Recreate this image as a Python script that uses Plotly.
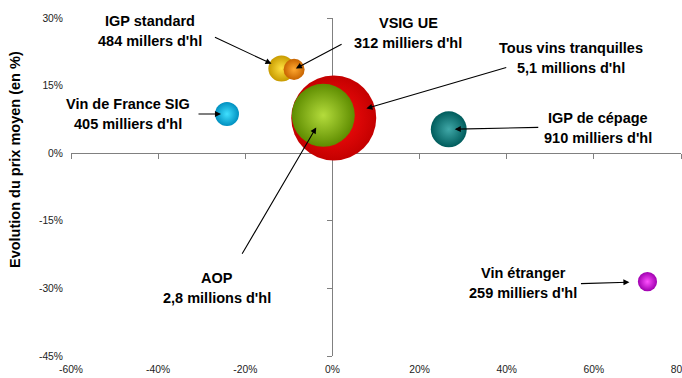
import plotly.graph_objects as go

# ---- data ----
categories = ["Tous vins tranquilles", "AOP", "IGP standard", "VSIG UE",
              "Vin de France SIG", "IGP de cépage", "Vin étranger"]
volume_labels = ["5,1 millions d'hl", "2,8 millions d'hl", "484 millers d'hl",
                 "312 milliers d'hl", "405 milliers d'hl", "910 milliers d'hl",
                 "259 milliers d'hl"]
volume_khl = [5100, 2800, 484, 312, 405, 910, 259]
volume_change = [0.3, -2.1, -11.7, -8.8, -24.2, 26.7, 72.3]   # x, %
price_change = [7.8, 8.4, 18.8, 18.6, 8.7, 5.3, -28.5]        # y, %

x_ticks = [-60, -40, -20, 0, 20, 40, 60, 80]
x_tick_labels = ["-60%", "-40%", "-20%", "0%", "20%", "40%", "60%", "80%"]
y_ticks = [-45, -30, -15, 0, 15, 30]
y_tick_labels = ["-45%", "-30%", "-15%", "0%", "15%", "30%"]
y_title = "Evolution du prix moyen (en %)"

# ---- styles ----
edge_colors = ["#C40000", "#5E8C00", "#C89B00", "#C86400", "#0090C0", "#005C5C", "#A000B0"]
center_colors = ["#FF1010", "#B4DC3C", "#FFE040", "#FFA830", "#40E0FF", "#40A8A8", "#FF50FF"]
# label text offsets (px, relative to bubble centre; y up) and arrow tails (px; y down) + standoff
label_shift = [(237, 60), (-106, -173), (-131, 37), (114, 36), (-99, 0), (149, 1), (-124, -1)]
arrow_tail = [(174, -51), (-82, 140), (-68, -32), (49, -26), (-30, 0), (91, -2), (-68, 2)]
arrow_standoff = [34, 14, 11, 2, 6, 6, 18]

max_d = 85
sizeref = 2 * max(volume_khl) / (max_d ** 2)

axis_col = "#808080"
font_fam = "Liberation Sans, Arial, sans-serif"

fig = go.Figure()
fig.add_trace(go.Scatter(
    x=volume_change, y=price_change, mode="markers",
    marker=dict(size=volume_khl, sizemode="area", sizeref=sizeref,
                color=edge_colors, line=dict(width=0),
                gradient=dict(type="radial", color=center_colors), opacity=1),
    hoverinfo="skip", showlegend=False, xaxis="x", yaxis="y"))
# dummy trace for label axes
fig.add_trace(go.Scatter(x=[None], y=[None], xaxis="x2", yaxis="y2",
                         showlegend=False, hoverinfo="skip"))

annotations = []
for i, name in enumerate(categories):
    xs, ys = label_shift[i]
    for text, dy in ((name, 10), (volume_labels[i], -10)):
        annotations.append(dict(
            x=volume_change[i], y=price_change[i], xref="x", yref="y",
            text="<b>%s</b>" % text, showarrow=False, xshift=xs, yshift=ys + dy,
            xanchor="center", yanchor="middle",
            font=dict(family=font_fam, size=14.5, color="#000000")))
    ax, ay = arrow_tail[i]
    annotations.append(dict(
        x=volume_change[i], y=price_change[i], xref="x", yref="y",
        text="", showarrow=True, ax=ax, ay=ay, axref="pixel", ayref="pixel",
        arrowhead=2, arrowsize=1.1, arrowwidth=1.1, arrowcolor="#000000",
        standoff=arrow_standoff[i]))
annotations.append(dict(
    x=0, y=(356 - 160) / 338, xref="paper", yref="paper", xshift=-56,
    text="<b>%s</b>" % y_title, textangle=-90, showarrow=False,
    xanchor="center", yanchor="middle",
    font=dict(family=font_fam, size=14.5, color="#000000")))

tick_font = dict(family=font_fam, size=10.3, color="#222222")
xr = [-60, 80]
yr = [-45, 30]
fig.update_layout(
    width=682, height=378, margin=dict(l=71, r=1, t=18, b=22, autoexpand=False),
    paper_bgcolor="white", plot_bgcolor="white",
    xaxis=dict(range=xr, domain=[0, 1], anchor="free",
               position=(0 - yr[0]) / (yr[1] - yr[0]),
               showline=True, linecolor=axis_col, linewidth=1,
               ticks="outside", ticklen=5, tickcolor=axis_col, tickwidth=1,
               tickvals=x_ticks, showticklabels=False, showgrid=False,
               zeroline=False, layer="below traces", fixedrange=True,
               automargin=False),
    yaxis=dict(range=yr, domain=[0, 1], anchor="free",
               position=(0 - xr[0]) / (xr[1] - xr[0]), side="left",
               showline=True, linecolor=axis_col, linewidth=1,
               ticks="outside", ticklen=5, tickcolor=axis_col, tickwidth=1,
               tickvals=y_ticks, showticklabels=False, showgrid=False,
               zeroline=False, layer="below traces", fixedrange=True,
               automargin=False),
    xaxis2=dict(range=xr, overlaying="x", anchor="y2", side="bottom",
                tickvals=x_ticks, ticktext=x_tick_labels, tickfont=tick_font,
                showline=False, ticks="", showgrid=False, zeroline=False,
                ticklabelstandoff=6, ticklabeloverflow="allow", fixedrange=True,
                automargin=False),
    yaxis2=dict(range=yr, overlaying="y", anchor="x2", side="left",
                tickvals=y_ticks, ticktext=y_tick_labels, tickfont=tick_font,
                showline=False, ticks="", showgrid=False, zeroline=False,
                ticklabelstandoff=7, ticklabeloverflow="allow", fixedrange=True,
                automargin=False),
    annotations=annotations,
)

fig.write_html("out.html")
